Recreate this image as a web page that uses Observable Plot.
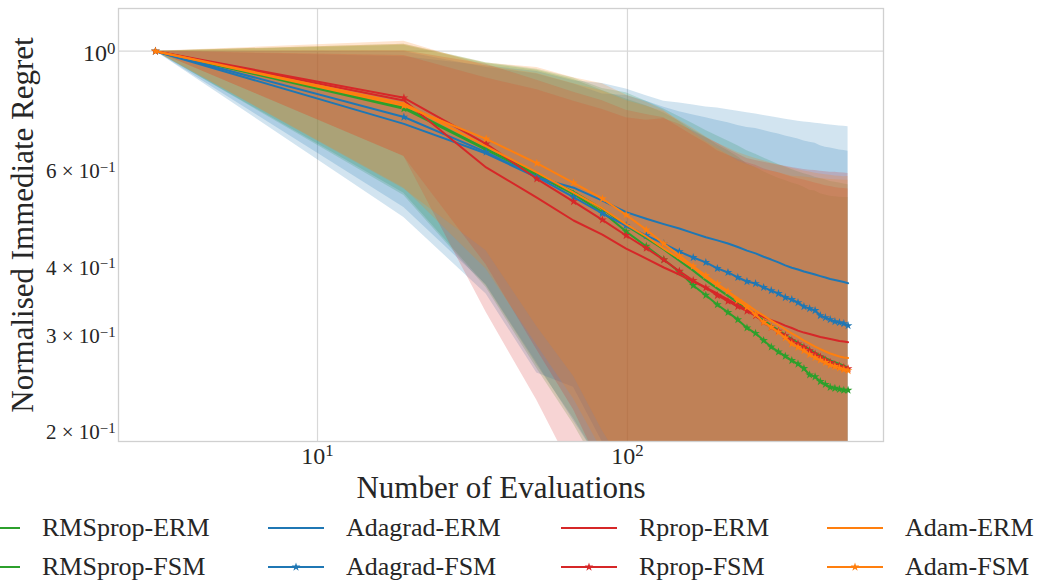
<!DOCTYPE html>
<html>
<head>
<meta charset="utf-8">
<script src="https://cdn.jsdelivr.net/npm/d3@7"></script>
<script src="https://cdn.jsdelivr.net/npm/@observablehq/plot@0.6"></script>
<style>
  body { margin: 0; background: #fff; overflow: hidden; }
  #chart { position: relative; width: 1040px; height: 583px; font-family: "Liberation Serif", "DejaVu Serif", serif; color: #262626; }
  #chart > svg { position: absolute; left: 0; top: 0; }
  .legend { position: absolute; left: -36px; top: 508px; display: grid;
            grid-template-columns: 304px 293px 266px 250px; grid-template-rows: 39px 39px;
            grid-auto-flow: column; font-size: 26px; }
  .legend .item { display: flex; align-items: center; gap: 22px; white-space: nowrap; }
  .legend svg { display: block; }
</style>
</head>
<body>
<div id="chart"></div>
<script>
// Number of objective evaluations at which regret was recorded
const evaluations = [3, 19, 35, 51, 67, 83, 99, 115, 131, 147, 163, 179, 195, 211, 227, 243,
  259, 275, 291, 307, 323, 339, 355, 371, 387, 403, 419, 435, 451, 467, 483, 499, 515];

const seriesNames = ["RMSprop-ERM", "RMSprop-FSM", "Adagrad-ERM", "Adagrad-FSM",
  "Rprop-ERM", "Rprop-FSM", "Adam-ERM", "Adam-FSM"];
const seriesColors = ["#2ca02c", "#2ca02c", "#1f77b4", "#1f77b4",
  "#d62728", "#d62728", "#ff7f0e", "#ff7f0e"];
const seriesStars = [false, true, false, true, false, true, false, true];

// Mean normalised immediate regret per optimiser
const rmspropErm = [1.0, 0.79, 0.663, 0.597, 0.553, 0.515, 0.480, 0.455, 0.434, 0.414, 0.397, 0.381,
  0.368, 0.357, 0.347, 0.338, 0.330, 0.322, 0.315, 0.309, 0.303, 0.298, 0.293, 0.289, 0.285, 0.281,
  0.278, 0.275, 0.272, 0.270, 0.268, 0.266, 0.264];
const rmspropFsm = [1.0, 0.785, 0.660, 0.593, 0.548, 0.508, 0.468, 0.440, 0.416, 0.395, 0.373, 0.358,
  0.344, 0.333, 0.323, 0.312, 0.305, 0.296, 0.288, 0.282, 0.277, 0.272, 0.268, 0.263, 0.256, 0.254,
  0.249, 0.246, 0.243, 0.242, 0.241, 0.240, 0.240];
const adagradErm = [1.0, 0.7365, 0.650, 0.588, 0.563, 0.533, 0.508, 0.494, 0.483, 0.474, 0.465, 0.457,
  0.451, 0.445, 0.4385, 0.432, 0.427, 0.421, 0.416, 0.411, 0.406, 0.402, 0.399, 0.3955, 0.393, 0.3906,
  0.388, 0.3857, 0.3833, 0.3817, 0.380, 0.3785, 0.3766];
const adagradFsm = [1.0, 0.758, 0.654, 0.589, 0.541, 0.505, 0.480, 0.460, 0.445, 0.430, 0.4196, 0.411,
  0.4008, 0.394, 0.3858, 0.3793, 0.376, 0.370, 0.365, 0.3606, 0.3546, 0.3516, 0.347, 0.3413, 0.3384,
  0.3357, 0.3286, 0.3258, 0.3231, 0.3204, 0.319, 0.3177, 0.315];
const rpropErm = [1.0, 0.8126, 0.6131, 0.540, 0.4903, 0.4622, 0.4357, 0.4178, 0.4023, 0.3906, 0.3793,
  0.3698, 0.3606, 0.3516, 0.3436, 0.3364, 0.3315, 0.3265, 0.3224, 0.319, 0.315, 0.3118, 0.3085, 0.3059,
  0.3041, 0.3022, 0.3003, 0.299, 0.2978, 0.2965, 0.2953, 0.2946, 0.2938];
const rpropFsm = [1.0, 0.822, 0.677, 0.5845, 0.531, 0.4917, 0.4603, 0.4364, 0.4155, 0.3961, 0.3809,
  0.3694, 0.3576, 0.3491, 0.3414, 0.335, 0.3286, 0.3196, 0.3129, 0.3077, 0.3021, 0.2958, 0.2918, 0.2876,
  0.2836, 0.2795, 0.276, 0.2725, 0.2697, 0.2674, 0.2657, 0.264, 0.2627];
const adamErm = [1.0, 0.8024, 0.6696, 0.6002, 0.5516, 0.5158, 0.4823, 0.4584, 0.4357, 0.4178, 0.4023,
  0.3858, 0.3729, 0.3636, 0.3532, 0.3442, 0.3357, 0.3286, 0.3218, 0.3158, 0.3099, 0.3048, 0.3003, 0.2958,
  0.2921, 0.2884, 0.2854, 0.2825, 0.2801, 0.2783, 0.2766, 0.2754, 0.275];
const adamFsm = [1.0, 0.795, 0.6915, 0.624, 0.5746, 0.5374, 0.5021, 0.4715, 0.4446, 0.4231, 0.4045,
  0.389, 0.3757, 0.364, 0.35, 0.3404, 0.33, 0.3196, 0.313, 0.3064, 0.2992, 0.2918, 0.2876, 0.2836,
  0.2789, 0.2754, 0.2725, 0.2697, 0.2668, 0.2652, 0.2635, 0.2618, 0.2607];

// Standard deviation of the regret (shaded band = mean ± std)
const rmspropErmStd = [0, 0.24, 0.29, 0.33, 0.34, 0.34, 0.36, 0.355, 0.35, 0.345, 0.34, 0.335, 0.332,
  0.328, 0.325, 0.32, 0.318, 0.316, 0.314, 0.312, 0.311, 0.31, 0.309, 0.308, 0.308, 0.307, 0.307, 0.307,
  0.306, 0.306, 0.306, 0.306, 0.306];
const rmspropFsmStd = [0, 0.24, 0.29, 0.33, 0.34, 0.34, 0.35, 0.355, 0.355, 0.35, 0.345, 0.338, 0.33,
  0.325, 0.318, 0.31, 0.308, 0.306, 0.305, 0.304, 0.303, 0.302, 0.302, 0.301, 0.301, 0.301, 0.3, 0.3,
  0.3, 0.3, 0.3, 0.3, 0.3];
const adagradErmStd = [0, 0.24, 0.29, 0.33, 0.32, 0.34, 0.345, 0.335, 0.327, 0.33, 0.332, 0.334, 0.336,
  0.337, 0.338, 0.34, 0.341, 0.342, 0.343, 0.344, 0.345, 0.346, 0.346, 0.347, 0.348, 0.348, 0.349, 0.349,
  0.35, 0.35, 0.35, 0.351, 0.351];
const adagradFsmStd = [0, 0.24, 0.28, 0.32, 0.33, 0.33, 0.35, 0.35, 0.345, 0.345, 0.345, 0.345, 0.346,
  0.346, 0.346, 0.346, 0.346, 0.346, 0.345, 0.345, 0.345, 0.344, 0.344, 0.344, 0.343, 0.343, 0.343,
  0.342, 0.342, 0.342, 0.341, 0.341, 0.341];
const rpropErmStd = [0, 0.17, 0.28, 0.31, 0.32, 0.32, 0.32, 0.33, 0.35, 0.345, 0.335, 0.325, 0.318,
  0.31, 0.305, 0.30, 0.3, 0.3, 0.3, 0.3, 0.301, 0.301, 0.302, 0.302, 0.302, 0.303, 0.303, 0.303, 0.303,
  0.304, 0.304, 0.304, 0.304];
const rpropFsmStd = [0, 0.18, 0.27, 0.30, 0.31, 0.32, 0.32, 0.33, 0.34, 0.33, 0.32, 0.31, 0.30, 0.296,
  0.293, 0.29, 0.29, 0.29, 0.291, 0.292, 0.292, 0.293, 0.293, 0.294, 0.294, 0.295, 0.295, 0.295, 0.296,
  0.296, 0.296, 0.297, 0.297];
const adamErmStd = [0, 0.24, 0.27, 0.31, 0.32, 0.33, 0.33, 0.335, 0.34, 0.33, 0.32, 0.312, 0.306, 0.302,
  0.30, 0.30, 0.301, 0.302, 0.303, 0.304, 0.305, 0.306, 0.307, 0.308, 0.309, 0.31, 0.311, 0.312, 0.313,
  0.313, 0.314, 0.314, 0.315];
const adamFsmStd = [0, 0.235, 0.26, 0.31, 0.32, 0.335, 0.33, 0.335, 0.335, 0.32, 0.305, 0.295, 0.288,
  0.283, 0.28, 0.28, 0.283, 0.286, 0.29, 0.293, 0.296, 0.299, 0.302, 0.305, 0.308, 0.31, 0.312, 0.314,
  0.316, 0.317, 0.318, 0.319, 0.32];

// Axis ticks and their labels ("^" marks the start of an exponent)
const xTicks = [10, 100];
const xTickLabels = ["10^1", "10^2"];
const yMajorTicks = [1];
const yMajorLabels = ["10^0"];
const yMinorTicks = [0.2, 0.3, 0.4, 0.6];
const yMinorLabels = ["2 × 10^−1", "3 × 10^−1", "4 × 10^−1", "6 × 10^−1"];
const xLabel = "Number of Evaluations";
const yLabel = "Normalised Immediate Regret";

const means = [rmspropErm, rmspropFsm, adagradErm, adagradFsm, rpropErm, rpropFsm, adamErm, adamFsm];
const stds = [rmspropErmStd, rmspropFsmStd, adagradErmStd, adagradFsmStd,
  rpropErmStd, rpropFsmStd, adamErmStd, adamFsmStd];

// Tidy rows per series; non-positive lower bounds are pushed far below the log axis
const tables = seriesNames.map((name, i) => evaluations.map((x, j) => ({
  series: name,
  x,
  mean: means[i][j],
  lo: Math.max(means[i][j] - stds[i][j], 1e-4),
  hi: means[i][j] + stds[i][j]
})));

const serif = "'Liberation Serif', 'DejaVu Serif', serif";
const gridColor = "#d8d8d8";
const starR = 2.7;
const majorSize = 24;
const minorSize = 21;

const marks = [
  Plot.gridX(xTicks, {stroke: gridColor, strokeOpacity: 1, strokeWidth: 1.2}),
  Plot.gridY(yMajorTicks, {stroke: gridColor, strokeOpacity: 1, strokeWidth: 1.2}),
  ...tables.map((rows, i) => Plot.areaY(rows, {
    x: "x", y1: "lo", y2: "hi", fill: seriesColors[i], fillOpacity: 0.2, clip: true
  })),
  Plot.frame({stroke: "#d0d0d0", strokeWidth: 1.3}),
  ...tables.flatMap((rows, i) => {
    const m = [Plot.line(rows, {x: "x", y: "mean", stroke: seriesColors[i], strokeWidth: 2})];
    if (seriesStars[i]) {
      m.push(Plot.dot(rows, {x: "x", y: "mean", symbol: "star", r: starR, fill: seriesColors[i], stroke: "none"}));
    }
    return m;
  }),
  // tick labels
  Plot.text(xTicks, {x: d => d, frameAnchor: "bottom", lineAnchor: "top", dy: 5,
    fontSize: majorSize, text: d => xTickLabels[xTicks.indexOf(d)]}),
  Plot.text(yMajorTicks, {y: d => d, frameAnchor: "left", textAnchor: "end", dx: -3, dy: 2,
    fontSize: majorSize, text: d => yMajorLabels[yMajorTicks.indexOf(d)]}),
  Plot.text(yMinorTicks, {y: d => d, frameAnchor: "left", textAnchor: "end", dx: -3, dy: -1,
    fontSize: minorSize, text: d => yMinorLabels[yMinorTicks.indexOf(d)]}),
  // axis titles
  Plot.text([xLabel], {frameAnchor: "bottom", textAnchor: "middle", lineAnchor: "middle", dy: 47, fontSize: 31}),
  Plot.text([yLabel], {frameAnchor: "left", textAnchor: "middle", lineAnchor: "middle", rotate: -90, dx: -95, fontSize: 31})
];

const svg = Plot.plot({
  width: 1040,
  height: 505,
  marginLeft: 118,
  marginRight: 157,
  marginTop: 8,
  marginBottom: 64,
  style: {fontFamily: serif, color: "#262626", background: "#fff", overflow: "visible"},
  x: {type: "log", domain: [2.28, 670], axis: null},
  y: {type: "log", domain: [0.1934, 1.197], axis: null},
  marks
});

// Raise the exponent part of each tick label
d3.select(svg).selectAll("text").each(function () {
  const t = this.textContent;
  const k = t.indexOf("^");
  if (k < 0) return;
  const size = +this.parentNode.getAttribute("font-size") || majorSize;
  const sel = d3.select(this);
  sel.text(null);
  sel.append("tspan").attr("font-size", size).text(t.slice(0, k));
  sel.append("tspan").attr("font-size", size * 0.7).attr("dy", -0.42 * size * 0.7).text(t.slice(k + 1));
});

const chart = document.getElementById("chart");
chart.appendChild(svg);

// Legend: four columns, ERM above FSM
const legend = d3.select(chart).append("div").attr("class", "legend");
const starPath = d3.symbol(d3.symbolStar, Math.PI * starR * starR)();
seriesNames.forEach((name, i) => {
  const item = legend.append("div").attr("class", "item");
  const sw = item.append("svg").attr("width", 56).attr("height", 14);
  sw.append("line").attr("x1", 0).attr("x2", 56).attr("y1", 7).attr("y2", 7)
    .attr("stroke", seriesColors[i]).attr("stroke-width", 2);
  if (seriesStars[i]) {
    sw.append("path").attr("d", starPath).attr("transform", "translate(28,7)").attr("fill", seriesColors[i]);
  }
  item.append("span").text(name);
});
</script>
</body>
</html>
